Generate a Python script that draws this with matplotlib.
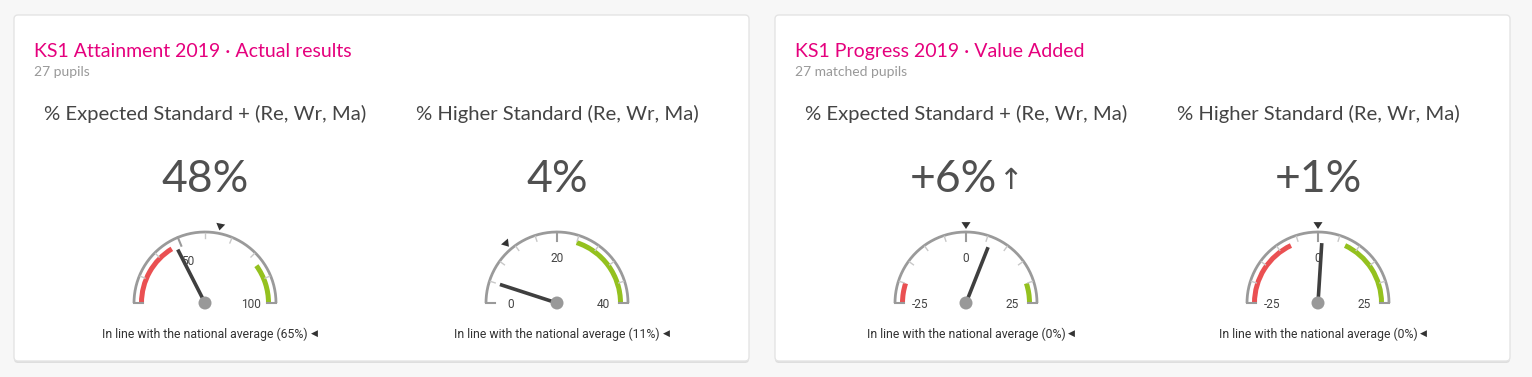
import numpy as np
import matplotlib.pyplot as plt
from matplotlib.patches import FancyBboxPatch, Wedge, Circle, Polygon

# ---- data ----
panel_titles = ['KS1 Attainment 2019 · Actual results', 'KS1 Progress 2019 · Value Added']
panel_subtitles = ['27 pupils', '27 matched pupils']

gauge_titles = ['% Expected Standard + (Re, Wr, Ma)', '% Higher Standard (Re, Wr, Ma)',
                '% Expected Standard + (Re, Wr, Ma)', '% Higher Standard (Re, Wr, Ma)']
gauge_values = [48, 4, 6, 1]
value_labels = ['48%', '4%', '+6%', '+1%']
value_arrows = ['', '', '\u2191', '']
national_avg = [65, 11, 0, 0]
national_labels = ['65%', '11%', '0%', '0%']
gauge_min = [20, 0, -25, -25]
gauge_max = [100, 40, 25, 25]
tick_step = [10, 4, 5, 5]
major_ticks = [[50, 100], [0, 20, 40], [-25, 0, 25], [-25, 0, 25]]
red_band = [(20, 46), None, (-25, -20), (-25, -7)]
green_band = [(84, 100), (24, 40), (20, 25), (7, 25)]

# ---- layout ----
W, H = 1532, 377
gauge_cx = [205, 557, 966, 1318]
gauge_cy = 303
R_OUT = 71
BAND_IN, BAND_OUT = 61, 66

fig = plt.figure(figsize=(W / 100, H / 100), dpi=100)
fig.patch.set_facecolor('#f7f7f7')
ax = fig.add_axes([0, 0, 1, 1])
ax.set_xlim(0, W)
ax.set_ylim(H, 0)
ax.axis('off')

TITLE_FONT = ['Lato', 'DejaVu Sans']
SMALL_FONT = ['Roboto', 'DejaVu Sans']

# panels
for i, px in enumerate([14, 775]):
    shadow = FancyBboxPatch((px, 16), 735, 347, boxstyle='round,pad=0,rounding_size=4',
                            facecolor='#dedede', edgecolor='none')
    ax.add_patch(shadow)
    box = FancyBboxPatch((px, 15), 735, 346, boxstyle='round,pad=0,rounding_size=4',
                         facecolor='white', edgecolor='#e4e4e4', linewidth=1)
    ax.add_patch(box)
    ax.text(px + 20, 57, panel_titles[i], color='#e5007d', fontsize=14,
            family=TITLE_FONT, va='baseline')
    ax.text(px + 20, 76, panel_subtitles[i], color='#999999', fontsize=10,
            family=TITLE_FONT, va='baseline')


def ang(v, lo, hi):
    # 180 deg at min, 0 deg at max
    return 180.0 * (hi - v) / (hi - lo)


def pt(cx, r, a):
    t = np.radians(a)
    return cx + r * np.cos(t), gauge_cy - r * np.sin(t)


def arc(cx, a1, a2, r_in, r_out, color):
    # y axis is inverted, so visual angle a is data angle -a
    big, small = max(a1, a2), min(a1, a2)
    ax.add_patch(Wedge((cx, gauge_cy), r_out, -big, -small, width=r_out - r_in,
                       facecolor=color, edgecolor='none'))


for g in range(4):
    cx = gauge_cx[g]
    lo, hi = gauge_min[g], gauge_max[g]

    ax.text(cx, 120, gauge_titles[g], color='#444444', fontsize=14.6,
            family=TITLE_FONT, ha='center', va='baseline')
    t = ax.text(cx, 192, value_labels[g], color='#505050', fontsize=32,
                family=TITLE_FONT, ha='center', va='baseline')
    if value_arrows[g]:
        t.set_position((cx - 13, 192))
        ax.text(cx + 32, 189, value_arrows[g], color='#505050', fontsize=21,
                family=['DejaVu Sans'], ha='left', va='baseline')

    # bands
    if red_band[g] is not None:
        a, b = red_band[g]
        arc(cx, ang(a, lo, hi), ang(b, lo, hi), BAND_IN, BAND_OUT, '#ea5052')
    if green_band[g] is not None:
        a, b = green_band[g]
        arc(cx, ang(a, lo, hi), ang(b, lo, hi), BAND_IN, BAND_OUT, '#94c11f')

    # outer arc
    th = np.linspace(0, 180, 200)
    xs, ys = pt(cx, R_OUT, th)
    ax.plot(xs, ys, color='#9a9a9a', linewidth=2, solid_capstyle='butt')

    # ticks
    for v in np.arange(lo, hi + 0.01, tick_step[g]):
        a = ang(v, lo, hi)
        if v in major_ticks[g] or v in (lo, hi):
            x1, y1 = pt(cx, R_OUT, a)
            x2, y2 = pt(cx, R_OUT - 9, a)
            ax.plot([x1, x2], [y1, y2], color='#9a9a9a', linewidth=1.5)
        else:
            x1, y1 = pt(cx, R_OUT - 1, a)
            x2, y2 = pt(cx, R_OUT - 6, a)
            ax.plot([x1, x2], [y1, y2], color='#c8c8c8', linewidth=1)
    for v in major_ticks[g]:
        a = ang(v, lo, hi)
        lx, ly = pt(cx, 46, a)
        ax.text(lx, ly + 1, '%d' % v, color='#444444', fontsize=8.6, family=SMALL_FONT,
                ha='center', va='center')

    # national average marker
    a = ang(national_avg[g], lo, hi)
    tip = pt(cx, 74, a)
    b1 = pt(cx, 81, a + 3.2)
    b2 = pt(cx, 81, a - 3.2)
    ax.add_patch(Polygon([tip, b1, b2], closed=True, facecolor='#333333', edgecolor='none'))

    # needle
    a = ang(gauge_values[g], lo, hi)
    nx, ny = pt(cx, 60, a)
    ax.plot([cx, nx], [gauge_cy, ny], color='#3f3f3f', linewidth=2.6, solid_capstyle='butt')
    ax.add_patch(Circle((cx, gauge_cy), 6.5, facecolor='#999999', edgecolor='none', zorder=5))

    # footer
    ft = ax.text(cx, 338, 'In line with the national average (%s)' % national_labels[g],
                 color='#333333', fontsize=8.8, family=SMALL_FONT, ha='center', va='baseline')
    fig.canvas.draw()
    bb = ft.get_window_extent()
    ax.text(bb.x1 + 3, 333.5, '\u25c0', color='#333333', fontsize=6.5,
            family=['DejaVu Sans'], ha='left', va='center')

fig.savefig('out.png', dpi=100, facecolor=fig.get_facecolor())
